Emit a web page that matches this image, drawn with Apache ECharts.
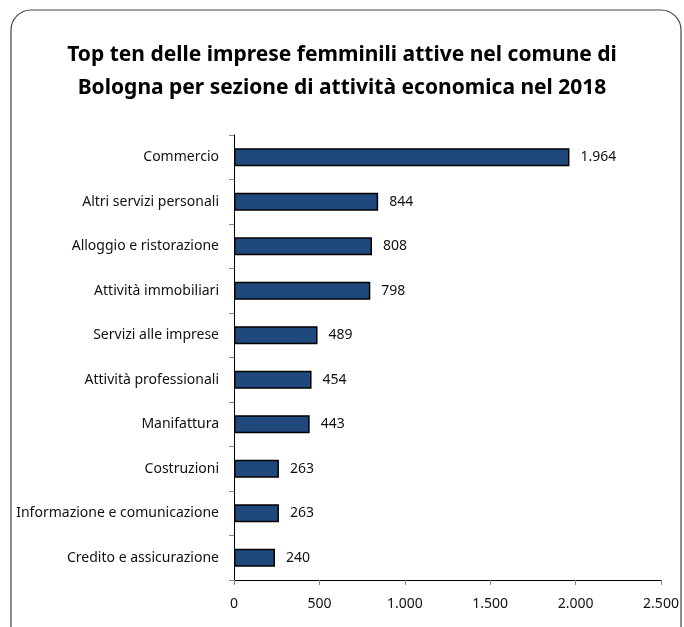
<!DOCTYPE html>
<html>
<head>
<meta charset="utf-8">
<script src="https://cdn.jsdelivr.net/npm/echarts@6/dist/echarts.min.js"></script>
<style>
  html, body { margin: 0; padding: 0; background: #fff; }
  #chart { width: 684px; height: 627px; }
</style>
</head>
<body>
<div id="chart"></div>
<script>
// Sezioni di attività economica (top ten) e numero di imprese femminili attive
const categories = [
  'Commercio',
  'Altri servizi personali',
  'Alloggio e ristorazione',
  'Attività immobiliari',
  'Servizi alle imprese',
  'Attività professionali',
  'Manifattura',
  'Costruzioni',
  'Informazione e comunicazione',
  'Credito e assicurazione'
];
const imprese = [1964, 844, 808, 798, 489, 454, 443, 263, 263, 240];
const axisMax = 2500;
const axisStep = 500;

const titleText = 'Top ten delle imprese femminili attive nel comune di\nBologna per sezione di attività economica nel 2018';

// Separatore delle migliaia all'italiana
function fmt(v) {
  return String(v).replace(/\B(?=(\d{3})+(?!\d))/g, '.');
}

const FONT = '"Noto Sans", sans-serif';

const chart = echarts.init(document.getElementById('chart'), null, { renderer: 'canvas' });
chart.setOption({
  backgroundColor: '#ffffff',
  animation: false,
  graphic: [{
    type: 'rect',
    shape: { x: 11, y: 10, width: 670, height: 640, r: 20 },
    style: { fill: 'none', stroke: '#444', lineWidth: 1.2 },
    silent: true
  }],
  title: {
    text: titleText,
    left: 'center',
    top: 34,
    textStyle: {
      fontFamily: FONT,
      fontWeight: 'bold',
      fontSize: 21,
      lineHeight: 33,
      color: '#000'
    }
  },
  grid: { left: 234, right: 23, top: 135, bottom: 47, containLabel: false },
  xAxis: {
    type: 'value',
    min: 0,
    max: axisMax,
    interval: axisStep,
    splitLine: { show: false },
    axisLine: { show: true, lineStyle: { color: '#000', width: 1 } },
    axisTick: { show: true, length: 5, lineStyle: { color: '#888' } },
    axisLabel: {
      margin: 17,
      fontFamily: FONT,
      fontSize: 14,
      color: '#111',
      formatter: v => fmt(v)
    }
  },
  yAxis: {
    type: 'category',
    data: categories,
    inverse: true,
    axisLine: { show: true, lineStyle: { color: '#000', width: 1 } },
    axisTick: { show: true, length: 5, lineStyle: { color: '#888' } },
    axisLabel: {
      margin: 15,
      fontFamily: FONT,
      fontSize: 14,
      color: '#111'
    }
  },
  series: [{
    type: 'bar',
    data: imprese,
    barWidth: 18,
    itemStyle: {
      color: '#1f497d',
      borderColor: '#000',
      borderWidth: 1.5
    },
    label: {
      show: true,
      position: 'right',
      distance: 11,
      fontFamily: FONT,
      fontSize: 14,
      color: '#111',
      formatter: p => fmt(p.value)
    }
  }]
});
</script>
</body>
</html>
